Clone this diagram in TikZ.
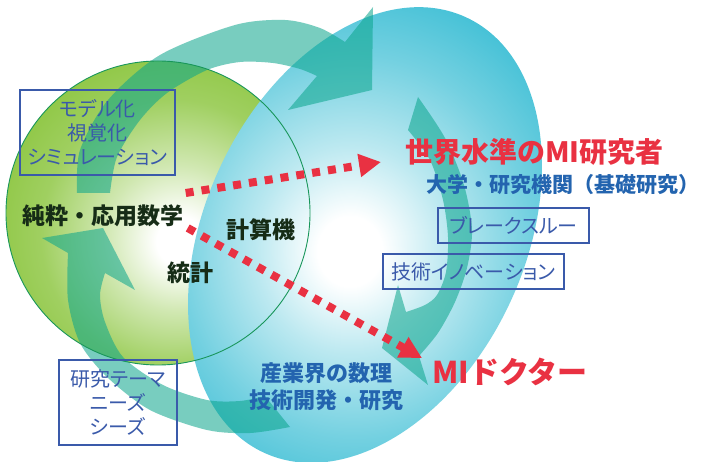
\documentclass[tikz,border=0pt]{standalone}
\usepackage{fontspec}
\usepackage{tikz}
\usetikzlibrary{positioning,arrows.meta}

\newfontfamily\jp{Noto Sans CJK JP}
\newfontfamily\jpb{Noto Sans CJK JP Black}
\newfontfamily\jpp[RawFeature=+palt]{Noto Sans CJK JP}

\definecolor{leaf}{RGB}{139,197,62}
\definecolor{leafline}{RGB}{24,150,90}
\definecolor{sky}{RGB}{30,180,206}
\definecolor{bandteal}{RGB}{10,165,140}
\definecolor{mired}{RGB}{233,49,66}
\definecolor{boxblue}{RGB}{58,90,170}
\definecolor{deepblue}{RGB}{35,100,175}
\definecolor{inkgreen}{RGB}{22,44,22}

% soft glows for the two discs
\pgfdeclareradialshading{leafglow}{\pgfpoint{4bp}{-5bp}}{%
  color(0bp)=(white); color(4bp)=(white); color(12bp)=(leaf!40!white);
  color(22bp)=(leaf!82!white); color(32bp)=(leaf); color(70bp)=(leaf)}
\pgfdeclareradialshading{skyglow}{\pgfpoint{-2bp}{-2bp}}{%
  color(0bp)=(white); color(4bp)=(white); color(12bp)=(sky!30!white);
  color(22bp)=(sky!62!white); color(32bp)=(sky!88!white); color(40bp)=(sky);
  color(70bp)=(sky)}

\begin{document}
\begin{tikzpicture}[
  x=1pt, y=-1pt,
  themebox/.style={draw=boxblue, line width=1.2pt, text=boxblue, align=center, inner sep=0pt,
    font=\jpp\fontsize{20}{24}\selectfont},
  inktext/.style={text=inkgreen, inner sep=0pt, font=\jpb\fontsize{23}{26}\selectfont},
  redtext/.style={text=mired, inner sep=0pt, anchor=west, font=\jpb\fontsize{28}{30}\selectfont},
  bluetext/.style={text=deepblue, inner sep=0pt, align=center, font=\jpb\fontsize{22}{27}\selectfont},
  band/.style={fill=bandteal, fill opacity=0.55},
  dotarrow/.style={draw=mired, line width=8pt, dash pattern=on 8pt off 8pt,
    -{Triangle[length=22pt,width=22pt]}},
]
\useasboundingbox (0,0) rectangle (707,462);
\fill[white] (0,0) rectangle (707,462);

% the two discs
\shade[shading=leafglow] (158,213) circle[radius=152pt];
\shade[shading=skyglow] (365,235) ellipse[x radius=240pt, y radius=160pt, rotate=65];

% cycle of wide arrows
\fill[band] plot[smooth] coordinates {(77,193) (80,150) (108,100) (160,55) (235,25) (285,20) (320,28) (345,42)}
  -- (373,7) -- (372,90) -- (288,110) -- (317,76)
  -- plot[smooth] coordinates {(317,76) (300,69) (273,63) (240,62) (207,70) (167,93) (140,120) (117,157) (110,193)}
  -- cycle;
\fill[band] plot[smooth] coordinates {(418,97) (445,138) (464,185) (472,230) (467,268) (455,302) (438,333) (419,356)}
  -- (428,385) -- (382,348) -- (398,285) -- (406,312)
  -- plot[smooth] coordinates {(406,312) (425,305) (437,295) (446,272) (448,237) (443,200) (430,160) (408,130)}
  -- cycle;
\fill[band] plot[smooth] coordinates {(290,427) (250,433) (207,430) (150,410) (107,377) (80,343) (68,300) (68,253)}
  -- (42,238) -- (103,228) -- (135,290) -- (105,273)
  -- plot[smooth] coordinates {(105,273) (100,295) (105,322) (123,357) (163,385) (207,400) (240,401) (265,396)}
  -- cycle;

\draw[leafline, line width=0.9pt] (158,213) circle[radius=152pt];

% boxed keywords
\node[themebox, minimum width=155pt, minimum height=85pt] (model) at (97.5,132.5)
  {モデル化\\視覚化\\シミュレーション};
\node[themebox, minimum width=118pt, minimum height=85pt] (needs) at (118,402.5)
  {研究テーマ\\ニーズ\\シーズ};
\node[themebox, minimum width=151pt, minimum height=35pt] (breakthrough) at (513.5,225.5) {ブレークスルー};
\node[themebox, minimum width=181pt, minimum height=35pt] (innovation) at (473.5,271.5) {技術イノベーション};

% fields
\node[inktext] (math) at (103,216) {純粋・応用数学};
\node[inktext] (computer) at (261,230) {計算機};
\node[inktext] (stats) at (190,273) {統計};

% goals
\node[redtext] (researcher) at (405,152) {世界水準のMI研究者};
\node[bluetext, font=\jpb\fontsize{21}{24}\selectfont, below right=8pt and 21pt of researcher.south west, anchor=north west] (univ)
  {大学・研究機関（基礎研究）};
\node[bluetext] (industry) at (326,387) {産業界の数理\\技術開発・研究};
\node[redtext, font=\jpb\fontsize{30}{32}\selectfont] (doctor) at (432,372) {MIドクター};

\draw[dotarrow] ([yshift=23pt,xshift=2pt]math.east) -- ([xshift=-24pt,yshift=-10pt]researcher.west);
\draw[dotarrow] ([yshift=-12pt,xshift=4pt]math.east) -- ([xshift=-10pt,yshift=14pt]doctor.west);
\end{tikzpicture}
\end{document}
